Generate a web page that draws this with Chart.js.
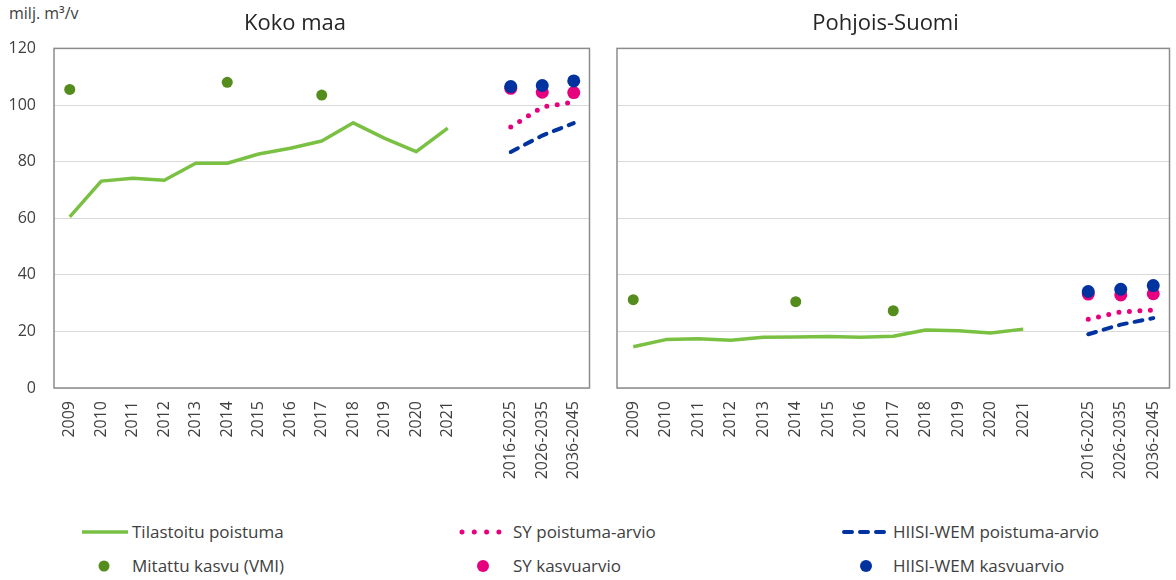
<!DOCTYPE html>
<html>
<head>
<meta charset="utf-8">
<script src="https://cdn.jsdelivr.net/npm/chart.js@4"></script>
<style>
  body { margin: 0; background: #fff; font-family: "Open Sans", sans-serif; color: #404040; }
  #wrap { position: relative; width: 1176px; height: 580px; overflow: hidden; }
  canvas { position: absolute; top: 0; }
  #unit { position: absolute; left: 9px; top: 2px; font-size: 16px; color: #404040; }
  .sample { position: absolute; }
  .label { position: absolute; font-size: 17px; line-height: 22px; color: #404040; white-space: nowrap; }
</style>
</head>
<body>
<div id="wrap">
  <div id="unit">milj. m³/v</div>
  <canvas id="koko" width="596" height="500" style="left:0"></canvas>
  <canvas id="pohjois" width="580" height="500" style="left:596px"></canvas>

  <!-- legend -->
  <svg class="sample" style="left:80px;top:522px" width="50" height="20"><line x1="2" y1="10" x2="48" y2="10" stroke="#7AC143" stroke-width="3.5"/></svg>
  <div class="label" style="left:132px;top:521px">Tilastoitu poistuma</div>
  <svg class="sample" style="left:94px;top:556px" width="20" height="20"><circle cx="10" cy="10" r="5.5" fill="#548C1E"/></svg>
  <div class="label" style="left:132px;top:555px">Mitattu kasvu (VMI)</div>

  <svg class="sample" style="left:458px;top:522px" width="44" height="20"><line x1="4" y1="10" x2="41" y2="10" stroke="#E6007E" stroke-width="5" stroke-linecap="round" stroke-dasharray="0 12.3"/></svg>
  <div class="label" style="left:513px;top:521px">SY poistuma-arvio</div>
  <svg class="sample" style="left:473px;top:556px" width="20" height="20"><circle cx="10" cy="10" r="6" fill="#E6007E"/></svg>
  <div class="label" style="left:513px;top:555px">SY kasvuarvio</div>

  <svg class="sample" style="left:840px;top:522px" width="48" height="20"><line x1="4" y1="10" x2="44" y2="10" stroke="#0033A0" stroke-width="4" stroke-linecap="round" stroke-dasharray="8 8"/></svg>
  <div class="label" style="left:893px;top:521px">HIISI-WEM poistuma-arvio</div>
  <svg class="sample" style="left:856px;top:556px" width="20" height="20"><circle cx="10" cy="10" r="6" fill="#0033A0"/></svg>
  <div class="label" style="left:893px;top:555px">HIISI-WEM kasvuarvio</div>
</div>

<script>
const years = ['2009', '2010', '2011', '2012', '2013', '2014', '2015', '2016', '2017', '2018', '2019', '2020', '2021'];
const periods = ['2016-2025', '2026-2035', '2036-2045'];
const categories = years.concat([''], periods);
const vmiYears = ['2009', '2014', '2017'];

// Koko maa
const kokoTilastoitu = [60.5, 73.1, 74.1, 73.4, 79.4, 79.4, 82.7, 84.7, 87.3, 93.7, 88.2, 83.5, 91.8];
const kokoVmi = [105.5, 108.0, 103.5];
const kokoSyPoistuma = [92.2, 99.3, 101.0];
const kokoHiisiPoistuma = [83.4, 89.2, 93.6];
const kokoSyKasvu = [105.9, 104.5, 104.4];
const kokoHiisiKasvu = [106.5, 106.9, 108.5];

// Pohjois-Suomi
const pohjoisTilastoitu = [14.6, 17.1, 17.4, 16.9, 17.9, 18.0, 18.2, 17.9, 18.3, 20.5, 20.2, 19.4, 20.8];
const pohjoisVmi = [31.2, 30.5, 27.3];
const pohjoisSyPoistuma = [24.3, 26.9, 27.5];
const pohjoisHiisiPoistuma = [19.0, 22.4, 24.7];
const pohjoisSyKasvu = [33.2, 32.9, 33.3];
const pohjoisHiisiKasvu = [34.1, 34.9, 36.2];

const yMin = 0;
const yMax = 120;
const yStep = 20;

Chart.defaults.font.family = '"Open Sans", sans-serif';
Chart.defaults.color = '#595959';

function pairs(labels, values) {
    return labels.map((l, i) => ({ x: l, y: values[i] }));
}

// plot area frame, drawn under the marks
const framePlugin = {
    id: 'frame',
    beforeDatasetsDraw(chart) {
        const a = chart.chartArea;
        const ctx = chart.ctx;
        ctx.save();
        ctx.strokeStyle = '#8C8C8C';
        ctx.lineWidth = 1.5;
        ctx.strokeRect(a.left, a.top, a.right - a.left, a.bottom - a.top);
        ctx.restore();
    }
};

function makeChart(id, title, s, opt) {
    const ctx = document.getElementById(id).getContext('2d');
    return new Chart(ctx, {
        type: 'line',
        data: {
            labels: categories,
            datasets: [
                {
                    label: 'HIISI-WEM kasvuarvio',
                    data: pairs(periods, s.hiisiKasvu),
                    showLine: false,
                    pointRadius: 6.5,
                    pointBackgroundColor: '#0033A0',
                    pointBorderWidth: 0,
                    order: 0
                },
                {
                    label: 'SY kasvuarvio',
                    data: pairs(periods, s.syKasvu),
                    showLine: false,
                    pointRadius: 6.5,
                    pointBackgroundColor: '#E6007E',
                    pointBorderWidth: 0,
                    order: 1
                },
                {
                    label: 'Mitattu kasvu (VMI)',
                    data: pairs(vmiYears, s.vmi),
                    showLine: false,
                    pointRadius: 5.5,
                    pointBackgroundColor: '#548C1E',
                    pointBorderWidth: 0,
                    order: 2
                },
                {
                    label: 'SY poistuma-arvio',
                    data: pairs(periods, s.syPoistuma),
                    borderColor: '#E6007E',
                    borderWidth: 5,
                    borderDash: [0, 10.5],
                    borderCapStyle: 'round',
                    pointRadius: 0,
                    order: 3
                },
                {
                    label: 'HIISI-WEM poistuma-arvio',
                    data: pairs(periods, s.hiisiPoistuma),
                    borderColor: '#0033A0',
                    borderWidth: 4,
                    borderDash: [8, 8],
                    borderCapStyle: 'round',
                    pointRadius: 0,
                    order: 4
                },
                {
                    label: 'Tilastoitu poistuma',
                    data: pairs(years, s.tilastoitu),
                    borderColor: '#7AC143',
                    borderWidth: 3.5,
                    borderJoinStyle: 'round',
                    pointRadius: 0,
                    order: 5
                }
            ]
        },
        options: {
            responsive: false,
            animation: false,
            events: [],
            layout: { padding: { left: 0, right: opt.padRight, top: 2, bottom: 0 } },
            plugins: {
                legend: { display: false },
                tooltip: { enabled: false },
                title: {
                    display: true,
                    text: title,
                    color: '#262626',
                    font: { size: 22, weight: 'normal' },
                    padding: { top: 9, bottom: 11 }
                }
            },
            scales: {
                x: {
                    type: 'category',
                    offset: true,
                    grid: { display: false, drawTicks: false },
                    border: { display: false },
                    ticks: {
                        autoSkip: false,
                        minRotation: 90,
                        maxRotation: 90,
                        padding: 13,
                        color: '#404040',
                        font: { size: 16 }
                    },
                    afterFit(scale) {
                        scale.height = 112;
                        // keep rotated labels from shrinking the plot width
                        scale.paddingLeft = 0;
                        scale.paddingRight = 0;
                    }
                },
                y: {
                    min: yMin,
                    max: yMax,
                    grid: { color: '#D9D9D9', lineWidth: 1, drawTicks: false },
                    border: { display: false },
                    ticks: {
                        display: opt.showTicks,
                        stepSize: yStep,
                        padding: 18,
                        color: '#404040',
                        font: { size: 16 }
                    },
                    afterFit(scale) { scale.width = opt.axisWidth; }
                }
            }
        },
        plugins: [framePlugin]
    });
}

makeChart('koko', 'Koko maa', {
    tilastoitu: kokoTilastoitu, vmi: kokoVmi,
    syPoistuma: kokoSyPoistuma, hiisiPoistuma: kokoHiisiPoistuma,
    syKasvu: kokoSyKasvu, hiisiKasvu: kokoHiisiKasvu
}, { padRight: 6, axisWidth: 54, showTicks: true });

makeChart('pohjois', 'Pohjois-Suomi', {
    tilastoitu: pohjoisTilastoitu, vmi: pohjoisVmi,
    syPoistuma: pohjoisSyPoistuma, hiisiPoistuma: pohjoisHiisiPoistuma,
    syKasvu: pohjoisSyKasvu, hiisiKasvu: pohjoisHiisiKasvu
}, { padRight: 1, axisWidth: 21, showTicks: false });
</script>
</body>
</html>
